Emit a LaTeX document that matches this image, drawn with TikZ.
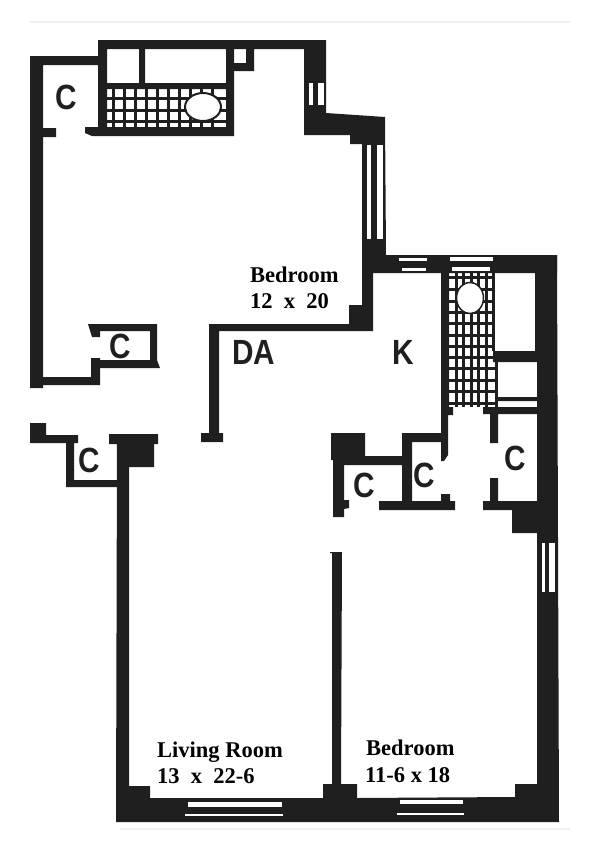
\documentclass[tikz,border=0pt]{standalone}
\usepackage{fontspec}
\setmainfont{Liberation Serif}
\newfontfamily\handfont{Liberation Sans}
\newcommand{\handtext}[1]{\scalebox{.85}[1]{#1}}
\tikzset{
  wall/.style={fill=black!88},
  slit/.style={fill=white},
  tile/.style={draw=black!88, line width=3pt},
  roomlabel/.style={anchor=base west, inner sep=0pt, font=\bfseries\fontsize{22.5}{27}\selectfont},
  handlabel/.style={inner sep=0pt, text=black!88, font=\handfont\bfseries\fontsize{35}{40}\selectfont}
}

\begin{document}
\begin{tikzpicture}[x=1pt, y=-1pt]
      \useasboundingbox (0, 0) rectangle (600, 841);
      % edge of the sheet
      \draw[black!6, line width=1.5pt] (30, 22)--(570, 22);
      \draw[black!6, line width=1.5pt] (120, 829)--(570, 829);
      % upper bedroom, outer walls
      \fill[wall] (30, 56)--(100, 56)--(100, 65)--(43, 65)--(43, 377)--(91, 377)--(91, 358)--(100, 358)--(100, 385)--(43, 385)--(43, 388)--(30, 388)--(30, 56);
      \fill[wall] (43, 128)--(56, 128)--(56, 137)--(43, 137)--(43, 128);
      \fill[wall] (98, 40)--(326, 40)--(326, 113)--(385, 117)--(386, 255)--(557, 255)--(557, 273)--(373, 273)--(373, 331)--(219, 331)--(219, 433)--(223, 433)--(223, 442)--(201, 442)--(201, 433)--(209, 433)--(209, 324)--(349, 324)--(349, 305)--(362, 305)--(362, 144)--(350, 144)--(350, 135)--(304, 135)--(304, 49)--(107, 49)--(107, 127)--(98, 127)--(98, 40);
      % bath of the upper bedroom
      \fill[wall] (85, 127)--(234, 127)--(234, 49)--(226, 49)--(226, 83)--(107, 83)--(107, 89)--(226, 89)--(226, 127)--(234, 127)--(234, 136)--(92, 136)--(85, 133)--(85, 127);
      \fill[wall] (139, 49)--(145, 49)--(145, 85)--(139, 85)--(139, 49);
      \fill[wall] (233, 63)--(246, 63)--(246, 49)--(254, 49)--(254, 71)--(233, 71)--(233, 63);
      \foreach \x in {113, 124, 135, 146, 157, 168, 179, 190, 201, 212} {
        \draw[tile] (\x, 88)--(\x, 128);
      }
      \foreach \y in {98, 110, 121} {
        \draw[tile] (106, \y)--(227, \y);
      }
      \fill[white] (203, 107) ellipse (17 and 13);
      \draw[line width=2pt, black!88] (203, 107) ellipse (18 and 14);
      % closet by the dining area
      \fill[wall] (88, 324)--(157, 324)--(157, 360)--(160, 368)--(91, 368)--(91, 360)--(150, 360)--(150, 331)--(100, 331)--(100, 337)--(92, 337)--(88, 324);
      % entry closet and block
      \fill[wall] (30, 423)--(46, 423)--(46, 435)--(78, 435)--(78, 443)--(74, 443)--(74, 480)--(117, 480)--(117, 487)--(66, 487)--(66, 443)--(30, 443)--(30, 423);
      \fill[wall] (109, 434)--(158, 434)--(158, 444)--(154, 444)--(154, 467)--(129, 467)--(129, 786)--(150, 786)--(150, 798)--(323, 798)--(323, 784)--(332, 784)--(332, 553)--(330, 553)--(330, 552)--(342, 552)--(341, 784)--(357, 784)--(357, 798)--(515, 797)--(515, 784)--(537, 784)--(537, 533)--(512, 533)--(512, 510)--(483, 510)--(483, 501)--(490, 501)--(490, 478)--(498, 478)--(498, 501)--(537, 501)--(537, 414)--(498, 414)--(498, 443)--(490, 443)--(490, 414)--(483, 414)--(483, 407)--(537, 407)--(537, 362)--(493, 362)--(493, 351)--(535, 351)--(535, 255)--(557, 255)--(559, 822)--(116, 822)--(117, 444)--(109, 444)--(109, 434);
      % closets by the kitchen
      \fill[wall] (331, 433)--(365, 433)--(365, 456)--(402, 456)--(402, 433)--(441, 433)--(441, 273)--(449, 273)--(449, 407)--(453, 407)--(453, 415)--(448, 415)--(448, 455)--(444, 461)--(441, 461)--(441, 442)--(412, 442)--(412, 501)--(441, 501)--(441, 494)--(450, 494)--(450, 501)--(455, 501)--(455, 510)--(379, 510)--(379, 501)--(402, 501)--(402, 465)--(344, 465)--(344, 500)--(349, 500)--(349, 508)--(344, 509)--(344, 517)--(333, 517)--(333, 460)--(331, 460)--(331, 433);
      % bath of the lower bedroom
      \foreach \x in {456, 463, 471, 478, 486} {
        \draw[tile] (\x, 273)--(\x, 407);
      }
      \draw[tile] (493, 273)--(493, 351);
      \draw[tile] (496, 351)--(496, 407);
      \foreach \y in {277, 289, 301, 312, 323, 335, 346, 357, 368, 380, 391, 403} {
        \draw[tile] (449, \y)--(495, \y);
      }
      \fill[white] (470, 298) ellipse (13 and 15);
      \draw[line width=1.5pt, black!88] (470, 298) ellipse (13.5 and 15.5);
      \fill[wall] (498, 397)--(537, 397)--(537, 401)--(498, 401)--(498, 397);
      % window slits
      \fill[slit] (309, 83) rectangle (313, 105);
      \fill[slit] (318, 83) rectangle (324, 105);
      \fill[slit] (367, 145) rectangle (371, 239);
      \fill[slit] (377, 145) rectangle (383, 239);
      \fill[slit] (399, 258) rectangle (427, 261);
      \fill[slit] (402, 268) rectangle (426, 271);
      \fill[slit] (450, 257) rectangle (493, 261);
      \fill[slit] (452, 267) rectangle (490, 271);
      \fill[slit] (542, 543) rectangle (545, 592);
      \fill[slit] (549, 543) rectangle (555, 592);
      \fill[slit] (188, 802) rectangle (282, 807);
      \fill[slit] (185, 814) rectangle (283, 816);
      \fill[slit] (400, 800) rectangle (463, 804);
      \fill[slit] (397, 813) rectangle (464, 815);
      % labels
      \node[roomlabel] (bedroomA) at (250, 282) {Bedroom};
      \node[roomlabel] (sizeA) at (250, 308) {12\ \ x\ \ 20};
      \node[roomlabel] (living) at (157, 757) {Living Room};
      \node[roomlabel] (sizeB) at (157, 783) {13\ \ x\ \ 22-6};
      \node[roomlabel] (bedroomB) at (366, 755) {Bedroom};
      \node[roomlabel] (sizeC) at (365, 782) {11-6 x 18};
      \node[handlabel] (closetA) at (66, 97) {\handtext{C}};
      \node[handlabel] (closetB) at (120, 346) {\handtext{C}};
      \node[handlabel] (closetC) at (89, 460) {\handtext{C}};
      \node[handlabel] (closetD) at (364, 485) {\handtext{C}};
      \node[handlabel] (closetE) at (424, 475) {\handtext{C}};
      \node[handlabel] (closetF) at (515, 458) {\handtext{C}};
      \node[handlabel] (dining) at (254, 352) {\handtext{DA}};
      \node[handlabel] (kitchen) at (403, 352) {\handtext{K}};
    \end{tikzpicture}
\end{document}
